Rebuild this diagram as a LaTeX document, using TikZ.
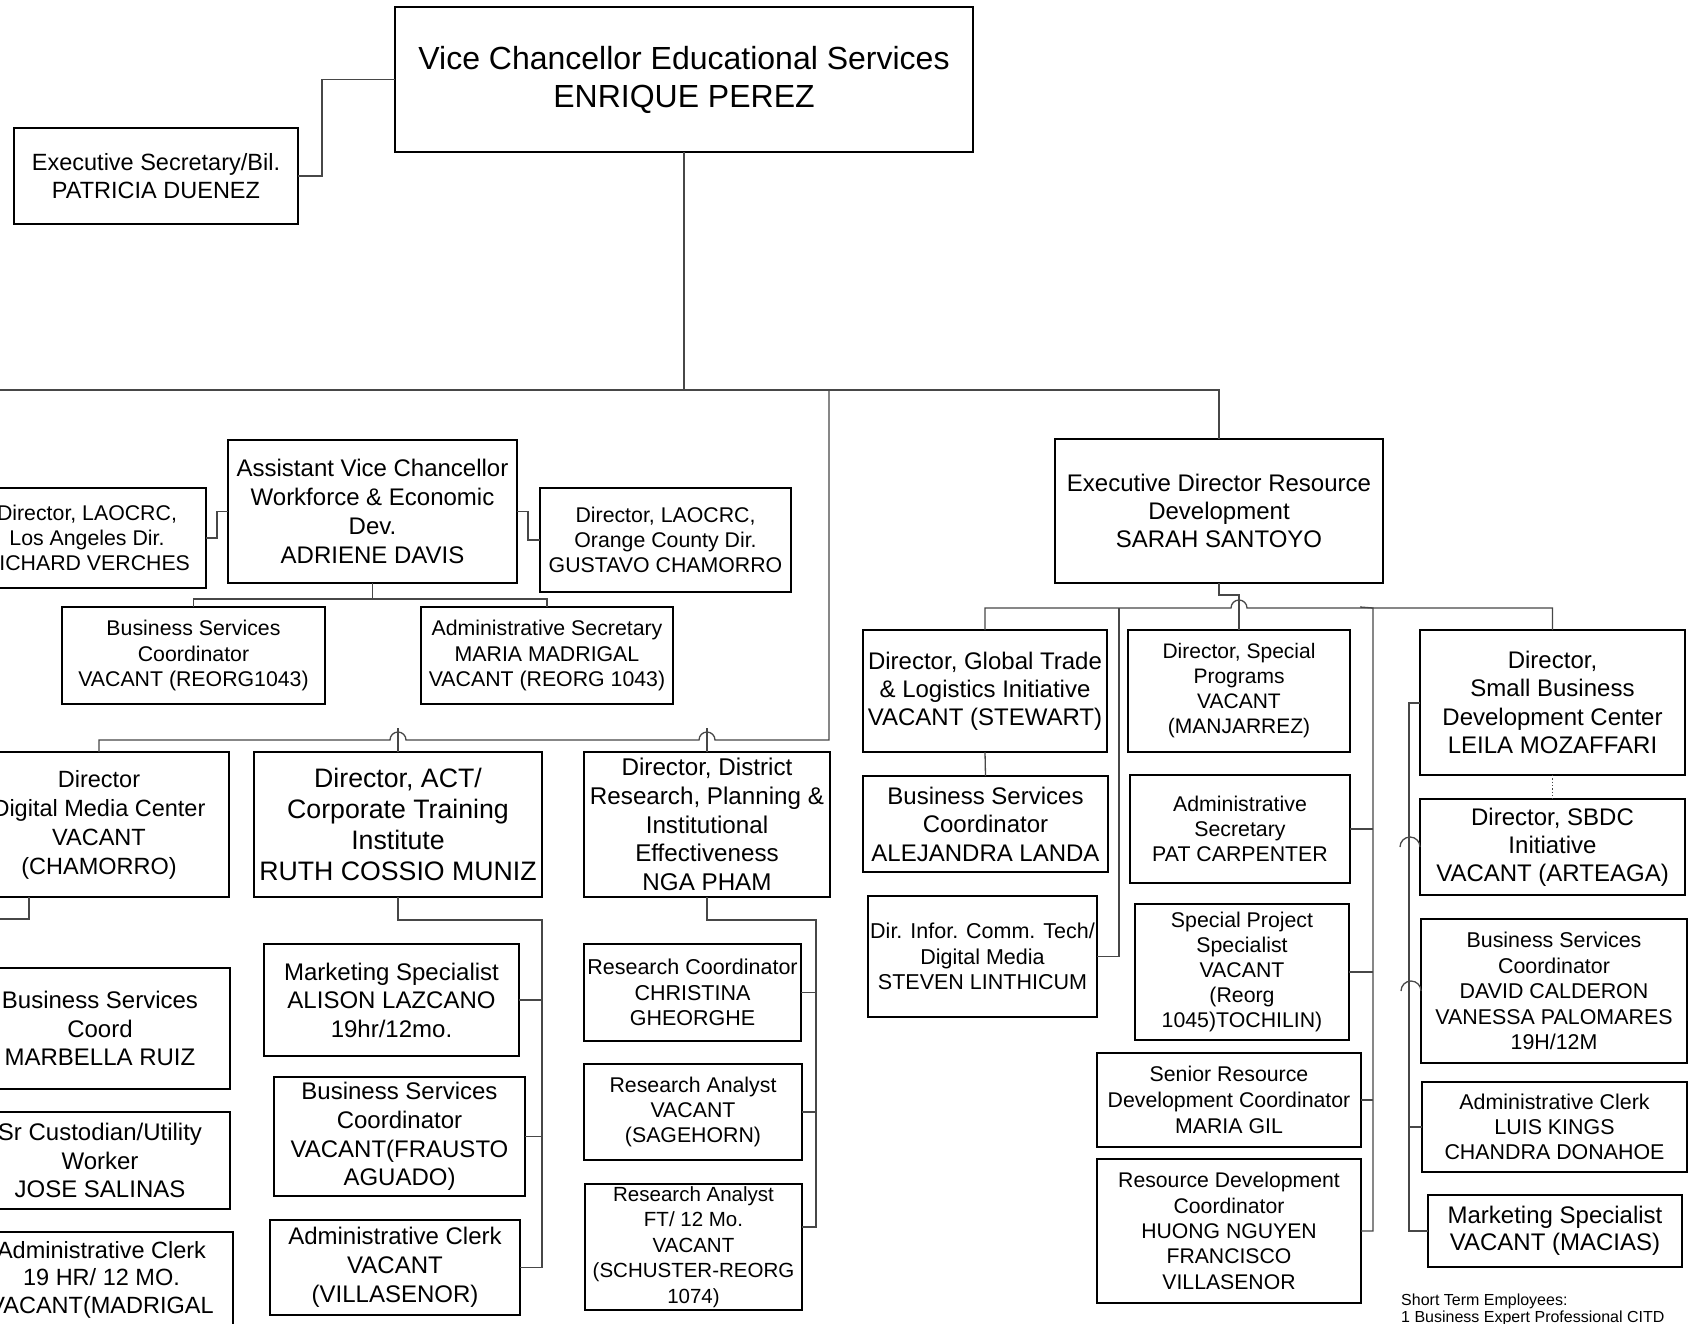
\documentclass[tikz,border=0pt]{standalone}
\usepackage{fontspec}
\setmainfont{Liberation Sans}
\newcommand\boxfont[2]{\fontsize{#1}{#2}\selectfont}
\begin{document}
\begin{tikzpicture}[x=1pt,y=-1pt,
  box/.style={draw=black, line width=2pt, align=center, inner sep=1pt, outer sep=0pt, text=black},
  wire/.style={draw=black!72, line width=1.3pt},
  big/.style={font=\boxfont{32}{38}},
  mid/.style={font=\boxfont{24}{28.5}},
  sml/.style={font=\boxfont{21.3}{25.2}}]
\useasboundingbox (0,0) rectangle (1691,1323);
\clip (0,0) rectangle (1691,1323);

% ---------- top level ----------
\node[box,big,minimum width=578,minimum height=145] (vc) at (684,79.5)
  {Vice Chancellor Educational Services\\ENRIQUE PEREZ};
\node[box,font=\boxfont{23.5}{28},minimum width=284,minimum height=96] (es) at (156,176)
  {Executive Secretary/Bil.\\PATRICIA DUENEZ};

% ---------- workforce branch ----------
\node[box,font=\boxfont{24}{29},minimum width=289,minimum height=143] (avc) at (372.5,511.5)
  {Assistant Vice Chancellor\\Workforce \& Economic\\Dev.\\ADRIENE DAVIS};
\node[box,sml,minimum width=238,minimum height=100] (la) at (87,538)
  {Director, LAOCRC,\\Los Angeles Dir.\\RICHARD VERCHES};
\node[box,sml,minimum width=251,minimum height=104] (oc) at (665.5,540)
  {Director, LAOCRC,\\Orange County Dir.\\GUSTAVO CHAMORRO};
\node[box,sml,minimum width=263,minimum height=97] (bsca) at (193.5,655.5)
  {Business Services\\Coordinator\\VACANT (REORG1043)};
\node[box,sml,minimum width=252,minimum height=97] (asa) at (547,655.5)
  {Administrative Secretary\\MARIA MADRIGAL\\VACANT (REORG 1043)};

\node[box,font=\boxfont{23.5}{29},minimum width=260,minimum height=145] (dm) at (99,824.5)
  {Director\\Digital Media Center\\VACANT\\(CHAMORRO)};
\node[box,font=\boxfont{26.7}{31},minimum width=288,minimum height=145] (act) at (398,824.5)
  {Director, ACT/\\Corporate Training\\Institute\\RUTH COSSIO MUNIZ};
\node[box,font=\boxfont{24.2}{28.8},minimum width=246,minimum height=145] (drp) at (707,824.5)
  {Director, District\\Research, Planning \&\\Institutional\\Effectiveness\\NGA PHAM};

\node[box,mid,minimum width=260,minimum height=121] (bscc) at (100,1028.5)
  {Business Services\\Coord\\MARBELLA RUIZ};
\node[box,mid,minimum width=260,minimum height=97] (cust) at (100,1160.5)
  {Sr Custodian/Utility\\Worker\\JOSE SALINAS};
\node[box,font=\boxfont{23.5}{27.5},minimum width=263,minimum height=95] (acb) at (101.5,1279.5)
  {Administrative Clerk\\19 HR/ 12 MO.\\VACANT(MADRIGAL};

\node[box,mid,minimum width=255,minimum height=112] (msa) at (391.5,1000)
  {Marketing Specialist\\ALISON LAZCANO\\19hr/12mo.};
\node[box,font=\boxfont{24}{28.7},minimum width=251,minimum height=119] (bscb) at (399.5,1136.5)
  {Business Services\\Coordinator\\VACANT(FRAUSTO\\AGUADO)};
\node[box,font=\boxfont{24}{29},minimum width=250,minimum height=95] (aca) at (395,1267.5)
  {Administrative Clerk\\VACANT\\(VILLASENOR)};

\node[box,font=\boxfont{21.5}{25.5},minimum width=217,minimum height=97] (rc) at (692.5,992.5)
  {Research Coordinator\\CHRISTINA\\GHEORGHE};
\node[box,sml,minimum width=218,minimum height=96] (raa) at (693,1112)
  {Research Analyst\\VACANT\\(SAGEHORN)};
\node[box,font=\boxfont{20.5}{25.5},minimum width=217,minimum height=126] (rab) at (693.5,1247)
  {Research Analyst\\FT/ 12 Mo.\\VACANT\\(SCHUSTER-REORG\\1074)};

% ---------- resource development branch ----------
\node[box,font=\boxfont{24}{28},minimum width=328,minimum height=144] (ed) at (1219,511)
  {Executive Director Resource\\Development\\SARAH SANTOYO};
\node[box,font=\boxfont{24}{28},minimum width=244,minimum height=122] (gt) at (985,691)
  {Director, Global Trade\\\& Logistics Initiative\\VACANT (STEWART)};
\node[box,mid,minimum width=245,minimum height=96] (bscd) at (985.5,824)
  {Business Services\\Coordinator\\ALEJANDRA LANDA};
\node[box,font=\boxfont{21.5}{25.5},minimum width=229,minimum height=121] (ict) at (982.5,956.5)
  {Dir. Infor. Comm. Tech/\\Digital Media\\STEVEN LINTHICUM};

\node[box,font=\boxfont{21}{25},minimum width=222,minimum height=122] (sp) at (1239,691)
  {Director, Special\\Programs\\VACANT\\(MANJARREZ)};
\node[box,sml,minimum width=220,minimum height=108] (asb) at (1240,829)
  {Administrative\\Secretary\\PAT CARPENTER};
\node[box,sml,minimum width=214,minimum height=136] (spp) at (1242,972)
  {Special Project\\Specialist\\VACANT\\(Reorg\\1045)TOCHILIN)};
\node[box,font=\boxfont{21.3}{26},minimum width=264,minimum height=94] (srd) at (1229,1100)
  {Senior Resource\\Development Coordinator\\MARIA GIL};
\node[box,font=\boxfont{21.2}{25.3},minimum width=264,minimum height=144] (rdc) at (1229,1231)
  {Resource Development\\Coordinator\\HUONG NGUYEN\\FRANCISCO\\VILLASENOR};

\node[box,mid,minimum width=265,minimum height=145] (sbdc) at (1552.5,702.5)
  {Director,\\Small Business\\Development Center\\LEILA MOZAFFARI};
\node[box,font=\boxfont{24}{28},minimum width=265,minimum height=96] (sbdci) at (1552.5,847)
  {Director, SBDC\\Initiative\\VACANT (ARTEAGA)};
\node[box,font=\boxfont{21.4}{25.5},minimum width=266,minimum height=144] (bsce) at (1554,991)
  {Business Services\\Coordinator\\DAVID CALDERON\\VANESSA PALOMARES\\19H/12M};
\node[box,font=\boxfont{21.4}{25},minimum width=265,minimum height=90] (acc) at (1554.5,1127)
  {Administrative Clerk\\LUIS KINGS\\CHANDRA DONAHOE};
\node[box,font=\boxfont{24}{27},minimum width=254,minimum height=72] (msb) at (1555,1231)
  {Marketing Specialist\\VACANT (MACIAS)};

\node[anchor=west,align=left,inner sep=0pt,text=black,font=\boxfont{16}{16.5}] (note) at (1401,1310)
  {Short Term Employees:\\1 Business Expert Professional CITD};

% ---------- connectors ----------
\coordinate (hub) at (829,390);
\coordinate (actrail) at (542,920);
\coordinate (drprail) at (816,920);
\coordinate (rdbus) at (1373,608);
\coordinate (sbrail) at (1409,703);

\draw[wire] (vc.west) -- (322,79.5) |- (es.east);
\draw[wire] (vc.south) -- (684,390);
\draw[wire] (-5,390) -- (1219,390) -- (ed.north);

% directors bus with line jumps
\draw[wire] (hub) -- (829,740) -- (715,740)
  arc[start angle=0,end angle=180,radius=8pt] -- (406,740)
  arc[start angle=0,end angle=180,radius=8pt] -- (99,740) -- (dm.north);
\draw[wire] (act.north) -- (398,728);
\draw[wire] (drp.north) -- (707,728);

\draw[wire] (la.east) -- (217,538) |- (avc.west);
\draw[wire] (avc.east) -- (528,511.5) |- (oc.west);
\draw[wire] (avc.south) -- (372.5,599);
\draw[wire] (bsca.north) -- ++(0,-8) -| (asa.north);

\draw[wire] ([xshift=-70pt]dm.south) |- (-5,919);

\draw[wire] (act.south) |- (actrail) |- (aca.east);
\draw[wire] (msa.east) -- (msa.east -| actrail);
\draw[wire] (bscb.east) -- (bscb.east -| actrail);

\draw[wire] (drp.south) |- (drprail) -- (816,1227) -- ([yshift=20pt]rab.east);
\draw[wire] (rc.east) -- (rc.east -| drprail);
\draw[wire] (raa.east) -- (raa.east -| drprail);

% resource development
\draw[wire] (ed.south) -- (1219,595) -| (sp.north);
\draw[wire] (gt.north) |- (1231,608)
  arc[start angle=180,end angle=0,radius=8pt] -- (1552.5,608) -- (sbdc.north);
\draw[wire] (gt.south) -- (bscd.north);
\draw[wire] (1119,608) |- (ict.east);

\draw[wire] (1360,607) -- (rdbus) |- (rdc.east);
\draw[wire] (asb.east) -- (asb.east -| rdbus);
\draw[wire] (spp.east) -- (spp.east -| rdbus);
\draw[wire] (srd.east) -- (srd.east -| rdbus);

\draw[wire] (sbdc.west |- sbrail) -- (sbrail) |- (msb.west);
\draw[wire] (acc.west) -- (acc.west -| sbrail);
\draw[wire] ([xshift=-20pt]sbdci.west) arc[start angle=180,end angle=0,radius=10pt];
\draw[wire] ([xshift=-20pt]bsce.west) arc[start angle=180,end angle=0,radius=10pt];
\draw[wire,dotted,line width=1.5pt] (sbdc.south) -- (sbdci.north);

\end{tikzpicture}
\end{document}
